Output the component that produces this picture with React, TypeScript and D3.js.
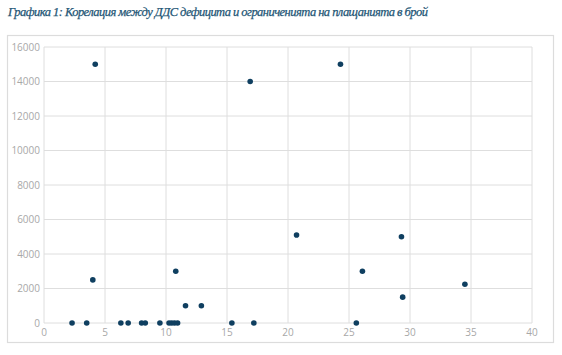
import React from "react";
import * as d3 from "d3";

const xValues = [4.2, 4.0, 2.3, 3.5, 6.3, 6.9, 8.0, 8.3, 9.5, 10.25, 10.47, 10.7, 10.95, 10.8, 11.6, 12.9, 15.4, 17.2, 16.9, 20.7, 24.3, 25.6, 26.1, 29.3, 29.4, 34.5];
const yValues = [15000, 2500, 0, 0, 0, 0, 0, 0, 0, 0, 0, 0, 0, 3000, 1000, 1000, 0, 0, 14000, 5100, 15000, 0, 3000, 5000, 1500, 2250];
const xTicks = [0, 5, 10, 15, 20, 25, 30, 35, 40];
const yTicks = [0, 2000, 4000, 6000, 8000, 10000, 12000, 14000, 16000];
const title = "Графика 1: Корелация между ДДС дефицита и ограниченията на плащанията в брой";

export default function App() {
  const W = 562, H = 355;
  const x = d3.scaleLinear().domain([0, 40]).range([44, 532]);
  const y = d3.scaleLinear().domain([0, 16000]).range([323, 47]);
  const pts = xValues.map((v, i) => ({ x: v, y: yValues[i] }));
  return (
    <svg width={W} height={H} style={{ position: "absolute", left: 0, top: 0 }}>
      <rect x={0} y={0} width={W} height={H} fill="#fff" />
      <text x={8} y={16} fontFamily="'Liberation Serif', serif" fontStyle="italic" fontSize={12.5} fill="#1d5575" stroke="#1d5575" strokeWidth={0.25} textLength={420} lengthAdjust="spacing">{title}</text>
      <rect x={7.5} y={35.5} width={546} height={307} fill="#fff" stroke="#dcdcdc" strokeWidth={1.2} />
      {yTicks.map(t => (
        <g key={"y" + t}>
          <line x1={44} x2={532} y1={y(t)} y2={y(t)} stroke="#dedede" strokeWidth={1} />
          <text x={40} y={y(t)} dy="0.35em" textAnchor="end" fontFamily="'Open Sans', sans-serif" fontSize={10} fill="#a8a8a8">{t}</text>
        </g>
      ))}
      {xTicks.map(t => (
        <g key={"x" + t}>
          <line x1={x(t)} x2={x(t)} y1={47} y2={323} stroke="#dedede" strokeWidth={1} />
          <text x={x(t)} y={336} textAnchor="middle" fontFamily="'Open Sans', sans-serif" fontSize={10} fill="#a8a8a8">{t}</text>
        </g>
      ))}
      {pts.map((p, i) => (
        <circle key={i} cx={x(p.x)} cy={y(p.y)} r={2.8} fill="#0f3f60" />
      ))}
    </svg>
  );
}
